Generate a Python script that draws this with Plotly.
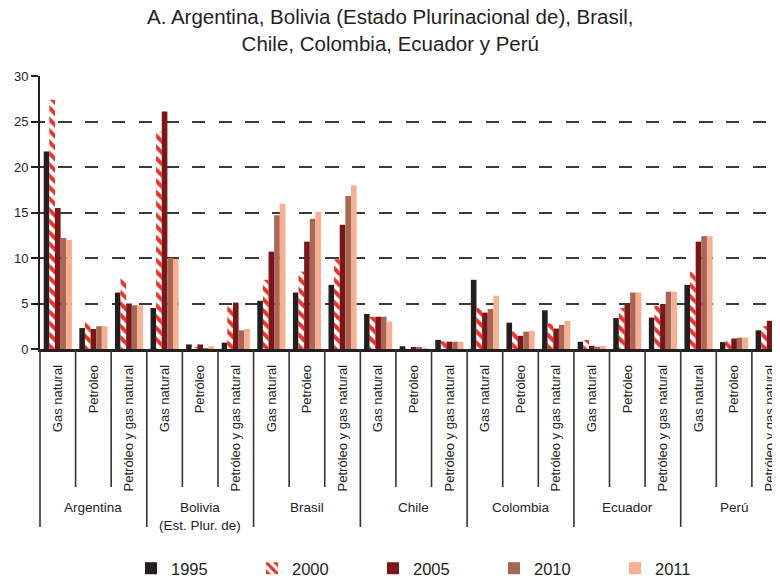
import plotly.graph_objects as go

countries = ["Argentina", "Bolivia<br>(Est. Plur. de)", "Brasil", "Chile", "Colombia", "Ecuador", "Perú"]
products = ["Gas natural", "Petróleo", "Petróleo y gas natural"]
years = ["1995", "2000", "2005", "2010", "2011"]

v1995 = [21.7, 2.3, 6.2, 4.5, 0.5, 0.7, 5.3, 6.2, 7.05, 3.85, 0.3, 1.0, 7.6, 2.9, 4.25, 0.8, 3.4, 3.45, 7.05, 0.75, 2.05]
v2000 = [27.4, 3.0, 7.8, 23.9, 0.15, 4.7, 7.6, 8.5, 9.85, 3.55, 0.1, 0.85, 4.5, 1.95, 2.8, 1.0, 4.5, 4.75, 8.5, 0.9, 2.5]
v2005 = [15.5, 2.2, 5.0, 26.1, 0.5, 5.1, 10.7, 11.8, 13.65, 3.55, 0.15, 0.8, 4.0, 1.45, 2.25, 0.35, 4.85, 4.95, 11.8, 1.15, 3.1]
v2010 = [12.2, 2.5, 4.8, 10.0, 0.05, 2.05, 14.7, 14.3, 16.8, 3.55, 0.15, 0.8, 4.4, 1.9, 2.65, 0.25, 6.2, 6.3, 12.4, 1.25, 3.55]
v2011 = [12.0, 2.5, 4.8, 9.9, 0.3, 2.2, 15.95, 15.05, 18.0, 3.0, 0.1, 0.8, 5.85, 2.0, 3.1, 0.35, 6.2, 6.3, 12.4, 1.25, 3.5]
series = [v1995, v2000, v2005, v2010, v2011]

title_text = "A. Argentina, Bolivia (Estado Plurinacional de), Brasil,<br>Chile, Colombia, Ecuador y Perú"

colors = ["#231f20", "#ee3124", "#7b1518", "#a86655", "#f8ae8f"]
FONT = "Liberation Sans, Arial, sans-serif"
TXT = "#231f20"

n_cat = len(countries) * len(products)
xs = list(range(n_cat))
labels = [p for _ in countries for p in products]

fig = go.Figure()
for i, (yr, vals) in enumerate(zip(years, series)):
    if yr == "2000":
        marker = dict(color="white", line=dict(width=0),
                      pattern=dict(shape="\\", fgcolor=colors[i], bgcolor="white",
                                   size=8, solidity=0.5, fillmode="replace",
                                   fgopacity=1))
    else:
        marker = dict(color=colors[i], line=dict(width=0))
    fig.add_trace(go.Bar(x=xs, y=vals, name=yr, marker=marker))

# the page body adds an 8px offset; layout below is expressed in reference pixels
OFF = 8
W, H = 780 - OFF, 579 - OFF
PLOT_L, PLOT_T, PLOT_B = 40, 76, 349      # reference pixel positions
plot_h = PLOT_B - PLOT_T
plot_w = 780 - PLOT_L

def py(ref_y):
    return (PLOT_B - ref_y) / plot_h

def px(ref_x):
    return (ref_x - PLOT_L) / plot_w

shapes = []
for b in range(1, n_cat):
    long = (b % len(products) == 0)
    shapes.append(dict(type="line", xref="x", yref="paper",
                       x0=b - 0.5, x1=b - 0.5, y0=0, y1=py(527 if long else 487),
                       line=dict(color="#333333", width=1.6)))
shapes.append(dict(type="line", xref="paper", yref="paper", x0=0, x1=0,
                   y0=0, y1=py(527), line=dict(color="#333333", width=1.6)))

annotations = []
for g, c in enumerate(countries):
    center = g * len(products) + (len(products) - 1) / 2
    annotations.append(dict(x=center, xref="x", y=py(498), yref="paper",
                            yanchor="top", xanchor="center", showarrow=False,
                            text=c, font=dict(family=FONT, size=13.5, color=TXT)))
annotations.append(dict(x=px(390), xref="paper", y=py(30.5), yref="paper",
                        xanchor="center", yanchor="middle", showarrow=False,
                        text=title_text, font=dict(family=FONT, size=20.5, color=TXT)))

fig.update_layout(
    width=W, height=H,
    margin=dict(l=PLOT_L - OFF, r=0, t=PLOT_T - OFF, b=579 - PLOT_B, autoexpand=False),
    paper_bgcolor="white", plot_bgcolor="white",
    barmode="group", bargap=0.21, bargroupgap=0,
    xaxis=dict(range=[-0.5, 20.29], tickvals=xs, ticktext=labels, tickangle=-90,
               tickfont=dict(family=FONT, size=13, color=TXT), automargin=False,
               showline=True, linecolor="#231f20", linewidth=2.5, ticks="",
               showgrid=False, zeroline=False, ticklabelstandoff=8),
    yaxis=dict(range=[0, 30], tickvals=[0, 5, 10, 15, 20, 25, 30], automargin=False,
               tickfont=dict(family=FONT, size=13, color=TXT),
               showline=True, linecolor="#231f20", linewidth=2,
               ticks="outside", ticklen=7, tickcolor="#231f20", tickwidth=1.5,
               showgrid=True, gridcolor="#3a3a3a", gridwidth=1.5,
               griddash="5px,13.4px,8.3px,0px", zeroline=False),
    legend=dict(orientation="h", x=px(131), xanchor="left",
                y=py(568.5), yanchor="middle",
                entrywidth=76, entrywidthmode="pixels",
                font=dict(family=FONT, size=16.5, color=TXT),
                bgcolor="rgba(0,0,0,0)"),
    shapes=shapes, annotations=annotations,
)

fig.write_html("out.html")
